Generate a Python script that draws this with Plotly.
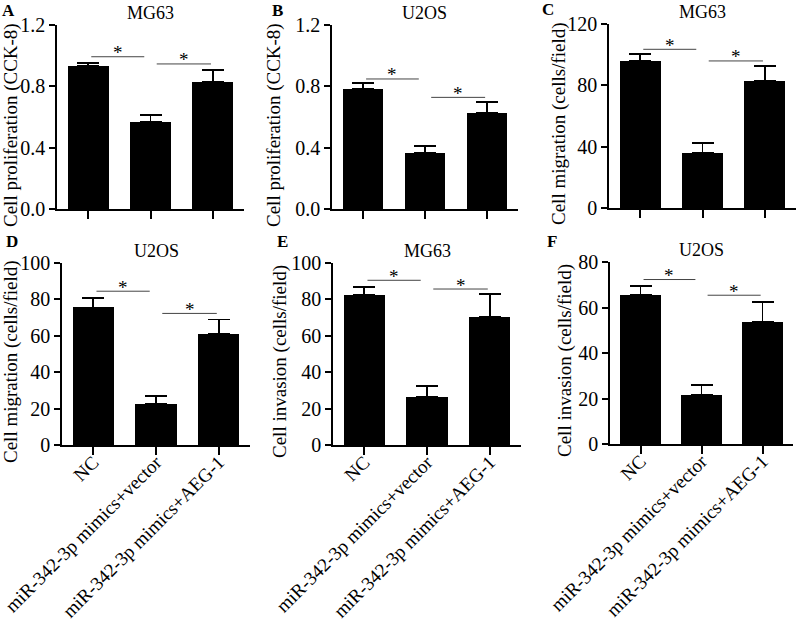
import plotly.graph_objects as go

# ---------------- data ----------------
groups = ["NC", "miR-342-3p mimics+vector", "miR-342-3p mimics+AEG-1"]
panel_letters = ["A", "B", "C", "D", "E", "F"]
cell_lines = ["MG63", "U2OS", "MG63", "U2OS", "MG63", "U2OS"]
y_titles = [
    "Cell proliferation (CCK-8)",
    "Cell proliferation (CCK-8)",
    "Cell migration (cells/field)",
    "Cell migration (cells/field)",
    "Cell invasion (cells/field)",
    "Cell invasion (cells/field)",
]

a_mean = [0.934, 0.565, 0.830]
a_err = [0.020, 0.048, 0.077]
b_mean = [0.783, 0.367, 0.624]
b_err = [0.037, 0.046, 0.072]
c_mean = [95.9, 36.1, 82.8]
c_err = [4.3, 6.1, 9.8]
d_mean = [75.6, 22.5, 60.8]
d_err = [5.3, 4.5, 8.2]
e_mean = [82.4, 26.2, 70.5]
e_err = [4.6, 6.4, 12.5]
f_mean = [65.7, 21.5, 53.7]
f_err = [3.6, 4.5, 8.7]

means = [a_mean, b_mean, c_mean, d_mean, e_mean, f_mean]
errs = [a_err, b_err, c_err, d_err, e_err, f_err]

y_max = [1.2, 1.2, 120, 100, 100, 80]
y_dtick = [0.4, 0.4, 40, 20, 20, 20]
y_fmt = [".1f", ".1f", "d", "d", "d", "d"]

# significance bracket heights (data units): NC vs vector, vector vs AEG-1
sig_y1 = [0.993, 0.848, 103.5, 84.5, 90.5, 72.3]
sig_y2 = [0.946, 0.728, 95.9, 72.3, 85.7, 65.4]

# ---------------- layout geometry (pixels) ----------------
W, H = 796, 626
x_px = [(57, 244), (332, 518), (609, 796), (62, 250), (333, 521), (610, 793)]
y_px = [(25, 209), (25, 209), (24, 208), (263, 445), (263, 445), (262, 444)]
ytitle_x = [11, 274, 559, 11, 280, 565]
letter_xy = [(8, 11), (277, 11), (548, 10), (12, 241), (282, 241), (552, 241)]

FONT = "Liberation Serif"

fig = go.Figure()
annotations = []
shapes = []

for i in range(6):
    ax = "" if i == 0 else str(i + 1)
    xa, ya = "x" + ax, "y" + ax
    fig.add_trace(go.Bar(
        x=[0, 1, 2], y=means[i], width=0.66,
        marker=dict(color="black", line=dict(width=0)),
        error_y=dict(type="data", array=errs[i], arrayminus=[0, 0, 0],
                     symmetric=False, color="black", thickness=1.8, width=11),
        xaxis=xa, yaxis=ya, showlegend=False, hoverinfo="skip",
    ))
    (x0, x1), (y0, y1) = x_px[i], y_px[i]
    bottom_row = i >= 3
    fig.layout["xaxis" + ax] = dict(
        domain=[x0 / W, x1 / W], anchor=ya, range=[-0.5, 2.5],
        tickmode="array", tickvals=[0, 1, 2],
        ticktext=groups if bottom_row else ["", "", ""],
        showticklabels=bottom_row, tickangle=-45, automargin=False,
        ticklabeloverflow="allow", ticklabelstandoff=-11,
        ticks="outside", ticklen=8, tickwidth=1.5, tickcolor="black",
        showline=True, linecolor="black", linewidth=1.5,
        showgrid=False, zeroline=False,
        tickfont=dict(family=FONT, size=19, color="black"),
    )
    fig.layout["yaxis" + ax] = dict(
        domain=[1 - y1 / H, 1 - y0 / H], anchor=xa, range=[0, y_max[i]],
        dtick=y_dtick[i], tick0=0, tickformat=y_fmt[i], automargin=False,
        ticks="outside", ticklen=6, tickwidth=1.5, tickcolor="black",
        showline=True, linecolor="black", linewidth=1.5,
        showgrid=False, zeroline=False,
        tickfont=dict(family=FONT, size=20, color="black"),
    )
    # panel title
    annotations.append(dict(
        text=cell_lines[i], xref="paper", yref="paper",
        x=(x0 + x1) / 2 / W, y=1 - (y0 - 12) / H,
        xanchor="center", yanchor="middle", showarrow=False,
        font=dict(family=FONT, size=18, color="black")))
    # y-axis title
    annotations.append(dict(
        text=y_titles[i], xref="paper", yref="paper",
        x=ytitle_x[i] / W, y=1 - ((y0 + y1) / 2 + 8) / H, textangle=-90,
        xanchor="center", yanchor="middle", showarrow=False,
        font=dict(family=FONT, size=19, color="black")))
    # panel letter
    lx, ly = letter_xy[i]
    annotations.append(dict(
        text="<b>" + panel_letters[i] + "</b>", xref="paper", yref="paper",
        x=lx / W, y=1 - ly / H, xanchor="center", yanchor="middle",
        showarrow=False, font=dict(family=FONT, size=17, color="black")))
    # significance lines + stars
    for (sx0, sx1, sy) in [(0.05, 0.9, sig_y1[i]), (1.1, 1.97, sig_y2[i])]:
        shapes.append(dict(type="line", xref=xa, yref=ya, x0=sx0, x1=sx1,
                           y0=sy, y1=sy, line=dict(color="#444444", width=1)))
        annotations.append(dict(
            text="*", xref=xa, yref=ya, x=(sx0 + sx1) / 2, y=sy,
            xanchor="center", yanchor="middle", yshift=4, showarrow=False,
            font=dict(family=FONT, size=19, color="black")))

fig.update_layout(
    template="none",
    width=W, height=H, margin=dict(l=0, r=0, t=0, b=0, autoexpand=False),
    paper_bgcolor="white", plot_bgcolor="white",
    annotations=annotations, shapes=shapes, bargap=0,
    font=dict(family=FONT, color="black"),
)

fig.write_html(
    "out.html",
    config={"displayModeBar": False},
    post_script="document.body.style.margin='0';document.body.style.overflow='hidden';",
)
